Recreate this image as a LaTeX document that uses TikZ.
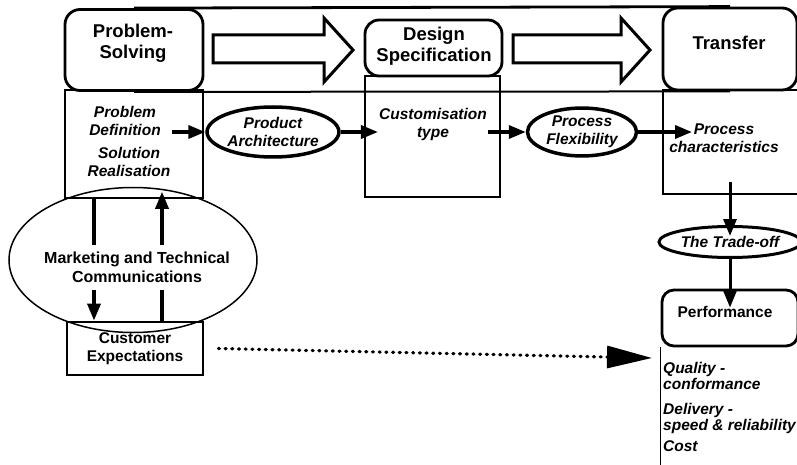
\documentclass[tikz,border=0pt]{standalone}
\usepackage{fontspec}
\setmainfont{Liberation Sans}
\usetikzlibrary{arrows.meta,shapes.geometric}
\def\fatarrow(#1:#2){\draw[line width=3pt, line join=miter] (#1, 35) -- ({#2-29}, 35) -- ({#2-29}, 18) -- (#2, 50) -- ({#2-29}, 82) -- ({#2-29}, 63) -- (#1, 63) -- cycle;}
\tikzset{
	headbox/.style={draw, line width=2.8pt, rounded corners=15pt, fill=white, inner sep=0pt},
	headtxt/.style={font=\fontsize{18.5}{21}\selectfont\bfseries, align=center, inner sep=1pt},
	lbl/.style={font=\fontsize{15.5}{18}\selectfont\bfseries\itshape, align=center, inner sep=1pt},
	res/.style={font=\fontsize{15.5}{16}\selectfont\bfseries\itshape, align=left, anchor=base west, inner sep=0pt},
	txt/.style={font=\fontsize{15.5}{18}\selectfont\bfseries, align=center, inner sep=1pt},
	col/.style={draw, line width=1.5pt, inner sep=0pt},
	oval/.style={ellipse, draw, line width=3.5pt, inner sep=0pt},
	conn/.style={line width=3.5pt, -{Triangle[length=17pt,width=13pt]}},
}

\begin{document}
\begin{tikzpicture}[x=1pt, y=-1pt]
		%%%%% START %%%%%
		\useasboundingbox (0, 0) rectangle (797, 465);
		
		% columns under the three stages
		\node[col, minimum width=138pt, minimum height=108pt] (pscol) at (134, 144) {};
		\node[col, minimum width=135pt, minimum height=121pt] (dscol) at (432.5, 136.5) {};
		\node[col, minimum width=140pt, minimum height=104pt] (trcol) at (733, 142) {};
		
		% stage boxes
		\node[headbox, minimum width=138pt, minimum height=81pt] (psbox) at (134, 50) {};
		\node[headbox, rounded corners=14pt, minimum width=137pt, minimum height=56pt] (dsbox) at (433.5, 48) {};
		\node[headbox, minimum width=134pt, minimum height=82pt] (trbox) at (730, 49) {};
		\draw[line width=2.8pt] (psbox.north) -- (trbox.north);
		\draw[line width=2pt] (psbox.south) -- (trbox.south);
		\node[headtxt] (pstxt) at (133, 43) {Problem-\\Solving};
		\node[headtxt] (dstxt) at (434, 46) {Design\\Specification};
		\node[headtxt] (trtxt) at (729, 43) {Transfer};
		
		\fatarrow(213:353)
		\fatarrow(513:650)
		
		% the chain of labels
		\node[lbl] (pdef) at (125, 121) {Problem\\Definition};
		\node[lbl] (sreal) at (129, 162) {Solution\\Realisation};
		\node[oval, lbl, minimum width=113pt, minimum height=50pt] (parch) at (273, 132) {Product\\Architecture};
		\node[lbl] (ctype) at (433, 124) {Customisation\\type};
		\node[oval, lbl, minimum width=109pt, minimum height=47pt] (pflex) at (582, 132) {Process\\Flexibility};
		\node[lbl] (pchar) at (724, 138) {Process\\characteristics};
		\coordinate (pcin) at (692, 132);
		
		\draw[conn, shorten <=10pt] (pdef.east |- parch.west) -- (parch.west);
		\draw[conn] (parch.east) -- (ctype.west |- parch.east);
		\draw[conn] (ctype.east |- pflex.west) -- (pflex.west);
		\draw[conn] (pflex.east) -- (pcin);
		
		% trade-off and performance
		\coordinate (tfoot) at (730, 182);
		\node[oval, lbl, line width=3pt, minimum width=126pt, minimum height=31pt] (toff) at (730, 242) {The Trade-off};
		\node[headbox, rounded corners=12pt, minimum width=136pt, minimum height=56pt] (perfbox) at (730, 318) {};
		\node[txt] (perftxt) at (725, 312) {Performance};
		\draw[line width=1.5pt] (perfbox.south west) -- ++(0, 120);
		\node[res] (qual) at (663, 389) {Quality -\\conformance};
		\node[res] (deliv) at (663, 430) {Delivery -\\speed \& reliability};
		\node[res] (cost) at (663, 451) {Cost};
		\coordinate (perfin) at (652, 358);
		
		\draw[conn, line width=3pt, shorten >=-11pt] (tfoot) -- (toff.north);
		\draw[conn, line width=3pt, shorten >=-19pt] (toff.south) -- (perfbox.north);
		
		% customers
		\node[txt, draw, line width=2.8pt, minimum width=136pt, minimum height=53pt] (cexp) at (135, 348.5) {Customer\\Expectations};
		\node[ellipse, draw, line width=1.5pt, minimum width=248pt, minimum height=145pt] (mtcov) at (133, 260) {};
		\draw[conn] ([xshift=-40pt]pscol.south) -- ([xshift=-41pt]cexp.north);
		\draw[conn, shorten >=-7pt] ([xshift=27pt]cexp.north) -- ([xshift=28pt]pscol.south);
		\node[txt, font=\fontsize{16}{19}\selectfont\bfseries, fill=white, inner ysep=7pt] (mtc) at (137, 267.5) {Marketing and Technical\\Communications};
		
		\draw[line width=3.2pt, line cap=round, dash pattern=on 1pt off 5.7pt, -{Triangle[length=45pt,width=22pt]}] ([xshift=14pt]cexp.east) -- (perfin);
		
		%%%%% END %%%%%
\end{tikzpicture}
\end{document}
